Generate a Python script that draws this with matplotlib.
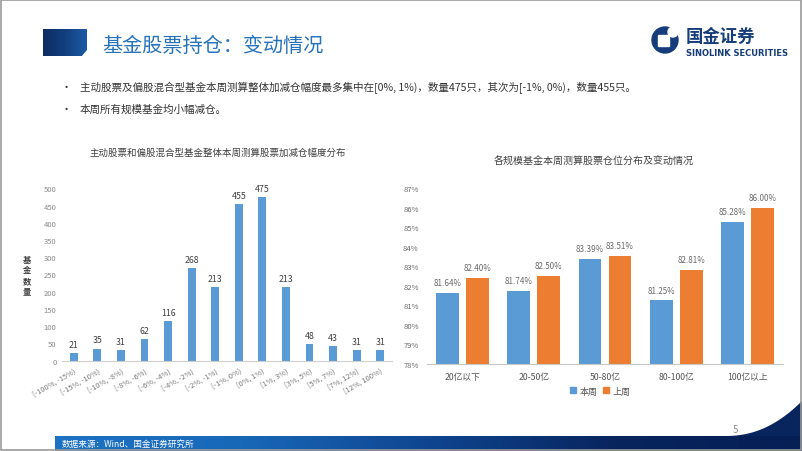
import matplotlib
matplotlib.use("Agg")
import matplotlib.pyplot as plt
import numpy as np
from matplotlib.patches import Rectangle, Circle, Polygon, FancyBboxPatch
from matplotlib.lines import Line2D
from matplotlib.colors import LinearSegmentedColormap

plt.rcParams['font.family'] = ['Noto Sans CJK SC', 'DejaVu Sans']

# ---------------- data ----------------
ranges = ["[-100%, -15%)", "[-15%, -10%)", "[-10%, -8%)", "[-8%, -6%)", "[-6%, -4%)",
          "[-4%, -2%)", "[-2%, -1%)", "[-1%, 0%)", "[0%, 1%)", "[1%, 3%)",
          "[3%, 5%)", "[5%, 7%)", "[7%, 12%)", "[12%, 100%)"]
fund_counts = [21, 35, 31, 62, 116, 268, 213, 455, 475, 213, 48, 43, 31, 31]

scales = ["20亿以下", "20-50亿", "50-80亿", "80-100亿", "100亿以上"]
this_week = [81.64, 81.74, 83.39, 81.25, 85.28]
last_week = [82.40, 82.50, 83.51, 82.81, 86.00]

title = "基金股票持仓：变动情况"
bullets = ["主动股票及偏股混合型基金本周测算整体加减仓幅度最多集中在[0%, 1%)，数量475只，其次为[-1%, 0%)，数量455只。",
           "本周所有规模基金均小幅减仓。"]
left_title = "主动股票和偏股混合型基金整体本周测算股票加减仓幅度分布"
right_title = "各规模基金本周测算股票仓位分布及变动情况"
source = "数据来源：Wind、国金证券研究所"

W, H = 802, 452
fig = plt.figure(figsize=(W / 100, H / 100), dpi=100)

def rect(x0, y0, x1, y1):
    return [x0 / W, 1 - y1 / H, (x1 - x0) / W, (y1 - y0) / H]

# background / decoration axes
bg = fig.add_axes([0, 0, 1, 1])
bg.set_xlim(0, W)
bg.set_ylim(H, 0)
bg.axis('off')

# footer gradient band
grad = np.linspace(0, 1, 300)[None, :]
cm = LinearSegmentedColormap.from_list('b', ['#1d72c4', '#1868b8', '#0f4590', '#08255e', '#061f55'])
bg.imshow(grad, extent=[55, W, 452, 437], cmap=cm, aspect='auto', zorder=1)
# curved right-bottom shape
t = np.linspace(0, 1, 60)
cx = 725 + (W - 725) * t
cy = 437 - (437 - 402) * t ** 2.2
poly = Polygon(list(zip(cx, cy)) + [(W, 437)], closed=True, color='#08255e', zorder=2, lw=0)
bg.add_patch(poly)
bg.text(62, 444.5, source, color='white', fontsize=6.2, va='center', ha='left', zorder=3)
bg.text(735, 430, "5", color='#8c8c8c', fontsize=7, va='center', ha='center')

# border
bg.add_patch(Rectangle((0.5, 0.5), W - 1.5, H - 1.5, fill=False, ec='#9a9a9a', lw=1.2, zorder=5))

# title block
gradt = np.linspace(0, 1, 100)[None, :]
cmt = LinearSegmentedColormap.from_list('t', ['#0d2d62', '#123f80', '#1d5aa3'])
bg.imshow(gradt, extent=[43, 87, 57, 30], cmap=cmt, aspect='auto', zorder=1)
bg.add_patch(Polygon([(87, 51), (87, 57.5), (81, 57.5)], closed=True, color='white', zorder=2, lw=0))
bg.text(102, 46, title, color='#2672bb', fontsize=14.5, va='center', ha='left')

# logo
bg.add_patch(Circle((665, 41), 13, color='#163d7a', zorder=3))
bg.add_patch(FancyBboxPatch((659, 37), 10, 10, boxstyle='round,pad=0.5', color='white', zorder=4))
bg.add_patch(Circle((673, 33), 5, color='white', zorder=4))
bg.text(686, 37, "国金证券", color='#163d7a', fontsize=12.5, fontweight='bold', va='center', ha='left')
bg.text(686, 53, "SINOLINK SECURITIES", color='#163d7a', fontsize=6, fontweight='bold',
        va='center', ha='left', family=['DejaVu Sans'])

# bullets
for i, b in enumerate(bullets):
    y = 88 + 22 * i
    bg.text(66, y, "•", fontsize=8, color='#333333', va='center', ha='center')
    bg.text(80, y, b, fontsize=7.6, color='#333333', va='center', ha='left')

# chart titles
bg.text(218, 153, left_title, fontsize=6.8, color='#404040', ha='center', va='center')
bg.text(594, 162, right_title, fontsize=7.2, color='#404040', ha='center', va='center')

# y label stacked
bg.text(27, 276, "基\n金\n数\n量", fontsize=6, color='#404040', ha='center', va='center',
        fontweight='bold', linespacing=1.25)

# ---------------- left chart ----------------
ax1 = fig.add_axes(rect(62, 189.3, 392, 361.7))
x = np.arange(len(fund_counts))
ax1.bar(x, fund_counts, width=0.33, color='#5b9bd5', zorder=2)
for xi, v in zip(x, fund_counts):
    ax1.text(xi, v + 12, str(v), ha='center', va='bottom', fontsize=6.3, color='#404040', clip_on=False)
ax1.set_xlim(-0.5, len(fund_counts) - 0.5)
ax1.set_ylim(0, 500)
ax1.set_yticks(np.arange(0, 501, 50))
ax1.tick_params(axis='y', labelsize=5.5, labelcolor='#8a8a8a', length=0, pad=4)
ax1.set_xticks(x)
ax1.set_xticklabels(ranges, rotation=30, ha='right', rotation_mode='anchor',
                    fontsize=5.4, color='#7a7a7a')
ax1.tick_params(axis='x', length=0, pad=4)
for s in ['top', 'right', 'left']:
    ax1.spines[s].set_visible(False)
ax1.spines['bottom'].set_color('#d0d0d0')
ax1.patch.set_alpha(0)

# ---------------- right chart ----------------
ax2 = fig.add_axes(rect(427, 189.3, 783, 364.7))
g = np.arange(len(scales))
off = 0.21
bw = 0.32
c_blue, c_orange = '#5b9bd5', '#ed7d31'
ax2.bar(g - off, this_week, width=bw, color=c_blue, zorder=2, label='本周')
ax2.bar(g + off, last_week, width=bw, color=c_orange, zorder=2, label='上周')
for gi, v in zip(g, this_week):
    ax2.text(gi - off, v + 0.3, f"{v:.2f}%", ha='center', va='bottom', fontsize=5.8, color='#6a6a6a')
for gi, v in zip(g, last_week):
    ax2.text(gi + off, v + 0.3, f"{v:.2f}%", ha='center', va='bottom', fontsize=5.8, color='#6a6a6a')
ax2.set_xlim(-0.5, len(scales) - 0.5)
ax2.set_ylim(78, 87)
ax2.set_yticks(np.arange(78, 88, 1))
ax2.set_yticklabels([f"{v}%" for v in range(78, 88)])
ax2.tick_params(axis='y', labelsize=5.5, labelcolor='#6a6a6a', length=0, pad=6)
ax2.set_xticks(g)
ax2.set_xticklabels(scales, fontsize=6.3, color='#555555')
ax2.tick_params(axis='x', length=0, pad=6)
for s in ['top', 'right', 'left']:
    ax2.spines[s].set_visible(False)
ax2.spines['bottom'].set_color('#c8c8c8')
ax2.patch.set_alpha(0)

handles = [Line2D([], [], marker='s', ls='', color=c_blue, markersize=4),
           Line2D([], [], marker='s', ls='', color=c_orange, markersize=4)]
fig.legend(handles, ['本周', '上周'], loc='center', bbox_to_anchor=(600 / W, 1 - 392 / H),
           ncol=2, frameon=False, fontsize=6.5, handletextpad=0.3, columnspacing=0.6,
           handlelength=0.8, labelcolor='#555555')

fig.savefig("out.png", dpi=100)
